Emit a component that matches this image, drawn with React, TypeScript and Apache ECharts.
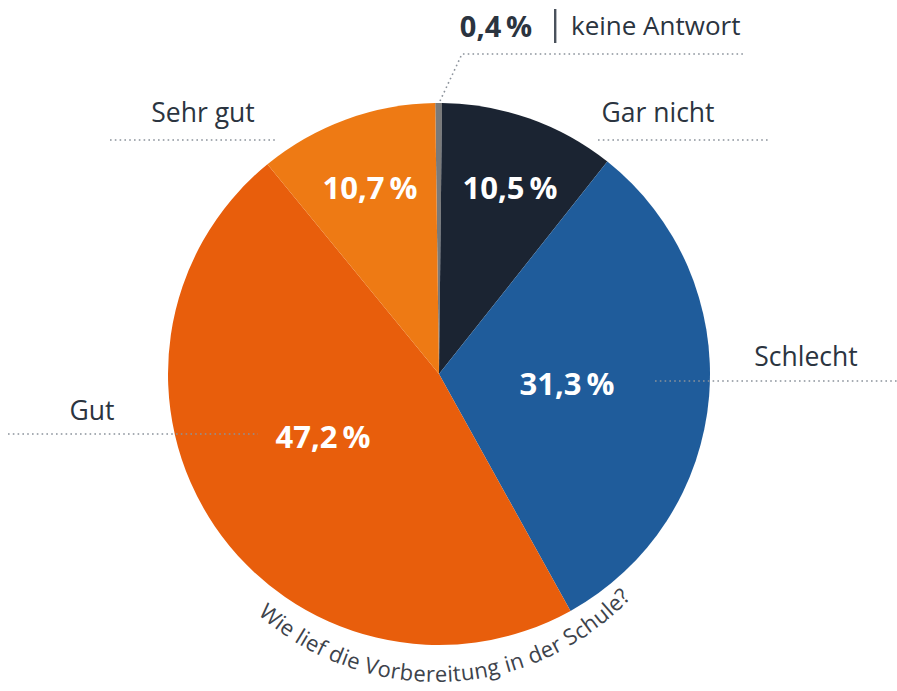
import React, { useEffect, useRef } from 'react';
import * as echarts from 'echarts';

const categories = ['keine Antwort', 'Gar nicht', 'Schlecht', 'Gut', 'Sehr gut'];
const values = [0.4, 10.5, 31.3, 47.2, 10.7];
const colors = ['#7a7a7a', '#1b2432', '#1f5c9b', '#e85e0c', '#ee7a14'];
const question = 'Wie lief die Vorbereitung in der Schule?';

const FONT = '"Open Sans", "Noto Sans", sans-serif';
const CX = 439;
const CY = 374;
const R = 271;
const TEXT_COLOR = '#2b3440';
const DOT = '#8b929b';

// inside label centres (layout only)
const innerPos: (number[] | null)[] = [null, [510, 187], [567, 383], [323, 436], [370, 187]];
// outside label layout: [textX, textY, lineX1, lineX2, lineY]
const outerLayout: number[][] = [
  [0, 0, 0, 0, 0],
  [658, 112, 598, 770, 140],
  [806, 356, 655, 897, 381],
  [92, 410, 8, 258, 434],
  [203, 112, 110, 278, 140],
];

function fmt(v: number) {
  return v.toFixed(1).replace('.', ',') + '\u2009%';
}

function curvedText(text: string, cx: number, cy: number, r: number, centerDeg: number, size: number) {
  const canvas = document.createElement('canvas');
  const ctx = canvas.getContext('2d')!;
  ctx.font = `${size}px ${FONT}`;
  const widths = Array.from(text).map((ch) => ctx.measureText(ch).width);
  const total = widths.reduce((a, b) => a + b, 0);
  let s = -total / 2 + (centerDeg * Math.PI / 180) * r;
  const children: any[] = [];
  Array.from(text).forEach((ch, i) => {
    const w = widths[i];
    const a = (s + w / 2) / r;
    s += w;
    children.push({
      type: 'text',
      x: cx + r * Math.sin(a),
      y: cy + r * Math.cos(a),
      rotation: a,
      style: {
        text: ch,
        fill: '#3d434b',
        font: `${size}px ${FONT}`,
        lineHeight: size,
        align: 'center',
        verticalAlign: 'middle',
      },
    });
  });
  return { type: 'group', children };
}

export default function App() {
  const ref = useRef<HTMLDivElement>(null);
  useEffect(() => {
    const chart = echarts.init(ref.current!, null, { renderer: 'svg' });
    const graphics: any[] = [];
    categories.forEach((c, i) => {
      if (i === 0) return;
      const [tx, ty, x1, x2, ly] = outerLayout[i];
      graphics.push({
        type: 'text',
        x: tx,
        y: ty,
        z: 10,
        style: { text: c, fill: TEXT_COLOR, font: `26.5px ${FONT}`, align: 'center', verticalAlign: 'middle' },
      });
      graphics.push({
        type: 'line',
        z: 10,
        shape: { x1, y1: ly, x2, y2: ly },
        style: { stroke: DOT, lineWidth: 1.6, lineDash: [1.6, 3.2] },
      });
    });
    // keine Antwort label
    graphics.push({
      type: 'polyline',
      z: 10,
      shape: { points: [[440, 101], [462, 54], [746, 54]] },
      style: { stroke: DOT, lineWidth: 1.6, lineDash: [1.6, 3.2], fill: null },
    });
    graphics.push({
      type: 'text',
      x: 496,
      y: 25,
      z: 10,
      style: { text: fmt(values[0]), fill: TEXT_COLOR, font: `bold 29px ${FONT}`, align: 'center', verticalAlign: 'middle' },
    });
    graphics.push({
      type: 'rect',
      z: 10,
      shape: { x: 554, y: 9, width: 2.4, height: 34 },
      style: { fill: '#4a525c' },
    });
    graphics.push({
      type: 'text',
      x: 571,
      y: 25,
      z: 10,
      style: { text: categories[0], fill: TEXT_COLOR, font: `26px ${FONT}`, align: 'left', verticalAlign: 'middle' },
    });
    graphics.push(curvedText(question, 436, 414, 259, 2.5, 22));

    chart.setOption({
      animation: false,
      backgroundColor: '#ffffff',
      graphic: graphics,
      series: [
        {
          type: 'pie',
          center: [CX, CY],
          radius: [0, R],
          startAngle: 90.8,
          clockwise: true,
          avoidLabelOverlap: false,
          label: {
            show: true,
            position: 'inside',
            color: '#ffffff',
            fontFamily: FONT,
            fontWeight: 'bold',
            fontSize: 31,
            formatter: (p: any) => fmt(p.value),
          },
          labelLine: { show: false },
          labelLayout: (p: any) => {
            const pos = innerPos[p.dataIndex];
            if (!pos) return {};
            return { x: pos[0], y: pos[1], align: 'center', verticalAlign: 'middle' };
          },
          emphasis: { disabled: true },
          itemStyle: { borderWidth: 0 },
          data: categories.map((c, i) => ({
            name: c,
            value: values[i],
            itemStyle: { color: colors[i] },
            label: i === 0 ? { show: false } : undefined,
          })),
        },
      ],
    });
    return () => chart.dispose();
  }, []);
  return <div ref={ref} style={{ position: 'fixed', left: 0, top: 0, width: 897, height: 691 }} />;
}
